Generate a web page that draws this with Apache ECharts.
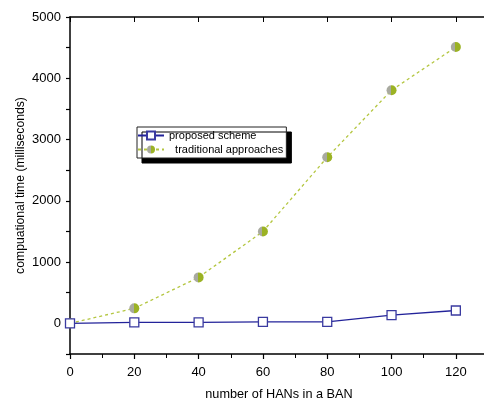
<!DOCTYPE html>
<html>
<head>
<meta charset="utf-8">
<script src="https://cdn.jsdelivr.net/npm/echarts@6/dist/echarts.min.js"></script>
<style>html,body{margin:0;padding:0;background:#fff}#c{width:484px;height:401px}</style>
</head>
<body>
<div id="c"></div>
<script>
const xValues = [0, 20, 40, 60, 80, 100, 120];
const proposed = [0, 15, 15, 25, 25, 135, 210];
const traditional = [0, 245, 750, 1500, 2710, 3805, 4510];
const seriesNames = ['proposed scheme', 'traditional approaches'];
const xTitle = 'number of HANs in a BAN';
const yTitle = 'compuational time (milliseconds)';

const chart = echarts.init(document.getElementById('c'), null, {renderer: 'canvas'});
const font = 'Liberation Sans, Arial, sans-serif';
const halfFill = new echarts.graphic.LinearGradient(0, 0, 1, 0, [
  {offset: 0, color: '#a9aaa0'}, {offset: 0.45, color: '#a9aaa0'},
  {offset: 0.45, color: '#9bb224'}, {offset: 1, color: '#9bb224'}
]);
chart.setOption({
  animation: false,
  backgroundColor: '#fff',
  grid: {left: 70, top: 17, right: -4, bottom: 47, show: false, containLabel: false, outerBoundsMode: 'none'},
  legend: {
    orient: 'vertical', left: 137, top: 127,
    data: seriesNames,
    backgroundColor: '#fff', borderColor: '#222', borderWidth: 1,
    shadowColor: '#000', shadowBlur: 0, shadowOffsetX: 5, shadowOffsetY: 5,
    padding: [3, 3, 3, 0], itemGap: 3, itemWidth: 26, itemHeight: 10,
    formatter: n => (n === seriesNames[1] ? '  ' + n : n),
    textStyle: {fontFamily: font, fontSize: 11, color: '#000'}
  },
  xAxis: [{
    type: 'value', min: 0, max: 130, interval: 20,
    name: xTitle, nameLocation: 'middle', nameGap: 34, nameMoveOverlap: false,
    nameTextStyle: {fontFamily: font, fontSize: 12.7, color: '#000'},
    position: 'bottom',
    axisLine: {onZero: false, lineStyle: {color: '#000', width: 1.5}},
    axisTick: {lineStyle: {color: '#000', width: 1.2}, length: 5},
    minorTick: {show: true, splitNumber: 2, length: 4, lineStyle: {color: '#000', width: 1}},
    axisLabel: {fontFamily: font, fontSize: 13, color: '#000', margin: 12,
      formatter: v => (v % 20 === 0 ? String(v) : '')},
    splitLine: {show: false}
  }, {
    type: 'value', min: 0, max: 130, interval: 20, position: 'top',
    axisLine: {onZero: false, lineStyle: {color: '#000', width: 1.5}},
    axisTick: {inside: true, length: 5, lineStyle: {color: '#000'}},
    axisLabel: {show: false}, splitLine: {show: false}
  }],
  yAxis: [{
    type: 'value', min: -500, max: 5000, interval: 500,
    name: yTitle, nameLocation: 'middle', nameGap: 43, nameMoveOverlap: false,
    nameTextStyle: {fontFamily: font, fontSize: 12.2, color: '#000'},
    axisLabel: {fontFamily: font, fontSize: 13, color: '#000', margin: 9,
      formatter: v => (v % 1000 === 0 ? String(v) : '')},
    axisLine: {onZero: false, lineStyle: {color: '#000', width: 1.5}},
    axisTick: {lineStyle: {color: '#000', width: 1.2}, length: 4},
    splitLine: {show: false}
  }],
  series: [{
    name: seriesNames[0], type: 'line',
    data: xValues.map((x, i) => [x, proposed[i]]),
    symbol: 'rect', symbolSize: 9,
    itemStyle: {color: '#fff', borderColor: '#3a3aa0', borderWidth: 1.3},
    lineStyle: {color: '#23239a', width: 1.3},
    z: 3
  }, {
    name: seriesNames[1], type: 'line',
    data: xValues.map((x, i) => [x, traditional[i]]),
    symbol: 'circle', symbolSize: 10,
    itemStyle: {color: halfFill, borderWidth: 0},
    lineStyle: {color: '#b4c640', width: 1.3, type: [3, 3]},
    z: 2
  }]
});
</script>
</body>
</html>
